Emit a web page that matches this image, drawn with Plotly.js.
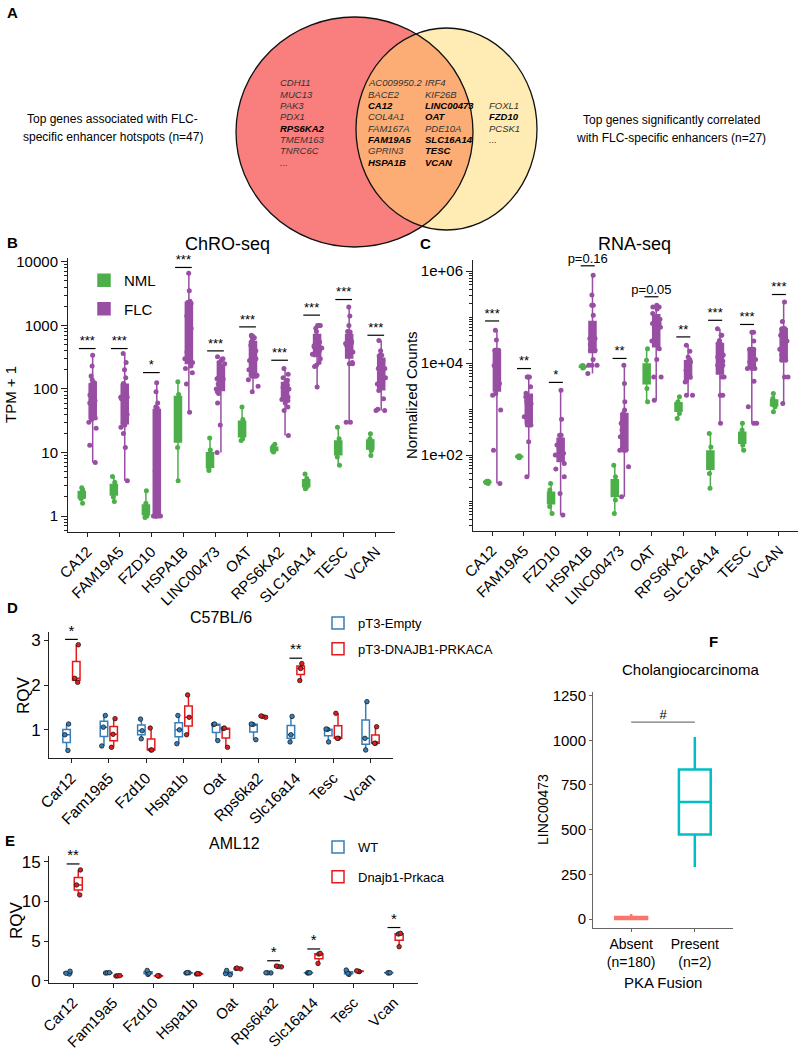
<!DOCTYPE html>
<html><head><meta charset="utf-8">
<script src="https://cdn.plot.ly/plotly-3.0.1.min.js"></script>
<style>body{margin:0;background:#fff}#chart{width:800px;height:1050px}</style>
</head><body><div id="chart"></div>
<script>
// ---------------- DATA ----------------
const humanGenes = ['CA12','FAM19A5','FZD10','HSPA1B','LINC00473','OAT','RPS6KA2','SLC16A14','TESC','VCAN'];

// Panel B: ChRO-seq, TPM + 1
const chroNML = [
  [1.6, 1.9, 2.0, 2.2, 2.3, 2.6, 2.8],
  [1.7, 2.0, 2.3, 2.6, 2.9, 3.4, 4.2],
  [0.95, 1.0, 1.1, 1.2, 1.4, 1.6, 2.5],
  [3.6, 12, 18, 46, 70, 82, 130],
  [5.2, 5.6, 6.2, 7.5, 9, 11, 17],
  [15.5, 16.5, 19, 25, 29, 33, 52],
  [10.2, 10.6, 11, 11.3, 11.8, 12.4, 13.5],
  [2.7, 2.8, 3.0, 3.3, 3.6, 3.9, 4.6],
  [6.3, 8.5, 10, 12.2, 14, 16.5, 25],
  [9, 10.8, 12, 13.8, 15, 16.5, 19.8]
];
const chroFLC = [
  [7, 13, 24, 30, 33, 35, 45, 55, 60, 60, 62, 62, 65, 80, 118, 125, 140, 160, 230, 340],
  [3.6, 12, 20, 25, 27, 29, 40, 55, 70, 74, 74, 74, 80, 95, 118, 122, 150, 200, 260, 360],
  [1, 1, 1, 1, 1, 1, 1, 5, 12, 20, 25, 30, 38, 45, 50, 52, 60, 90, 125],
  [43, 120, 180, 210, 230, 260, 300, 380, 430, 450, 600, 900, 1400, 2200, 2300, 2300, 2300, 2400, 3500, 6600],
  [10, 27, 60, 85, 90, 100, 120, 140, 145, 145, 145, 145, 150, 230, 250, 260, 280, 300, 320],
  [90, 110, 140, 158, 158, 160, 165, 200, 250, 280, 300, 340, 340, 400, 485, 560, 600, 640, 675, 675, 700],
  [18.6, 46, 52, 60, 66, 68, 72, 75, 75, 95, 100, 105, 115, 130, 137, 150, 170, 210],
  [107, 225, 235, 260, 300, 350, 400, 440, 460, 460, 460, 480, 550, 650, 800, 900, 1000, 1000, 1000],
  [30, 30, 250, 250, 260, 360, 380, 400, 480, 520, 520, 520, 560, 650, 790, 800, 1000, 1400, 1950],
  [46, 46, 48, 70, 95, 100, 120, 150, 190, 210, 210, 210, 230, 280, 330, 340, 340, 400, 580]
];
const chroSig = ['***','***','*','***','***','***','***','***','***','***'];
const chroSigY = [432, 432, 181, 8150, 397, 947, 283, 1450, 2550, 700];

// Panel C: RNA-seq, normalized counts
const rnaNML = [
  [24, 25, 26, 26, 27, 27],
  [88, 90, 92, 93, 95, 96],
  [5.4, 7.6, 10, 11.5, 14, 17.5, 24],
  [7800, 8100, 8300, 8400, 8600, 8800],
  [5.4, 10.6, 15, 19, 25, 34, 60],
  [1440, 2800, 4500, 5900, 8000, 11500, 20500],
  [625, 800, 1000, 1120, 1300, 1440, 1850],
  [19, 40, 60, 78, 100, 150, 295],
  [128, 165, 200, 230, 280, 350, 490],
  [870, 1120, 1250, 1320, 1450, 1700, 2180]
];
const rnaFLC = [
  [24, 128, 950, 2000, 2180, 3600, 5000, 7000, 7600, 8900, 10000, 13500, 13500, 19000, 19000, 19000, 31600, 51500],
  [34, 195, 450, 450, 450, 680, 900, 1320, 1320, 1320, 1500, 1850, 1850, 2200, 3060, 5000, 5000, 5000],
  [5, 14.7, 34, 50, 66, 80, 100, 100, 100, 110, 130, 165, 165, 200, 271, 271, 271, 600, 2570],
  [5900, 9000, 9000, 9000, 12000, 19000, 19000, 25000, 34000, 34000, 34000, 50000, 72000, 72000, 72000, 110000, 180000, 180000, 300000, 810000],
  [12.5, 56, 128, 128, 128, 200, 250, 350, 490, 490, 490, 600, 800, 950, 1440, 3600, 9000],
  [1560, 5000, 5000, 12000, 20500, 30000, 45000, 60000, 72000, 72000, 72000, 72000, 90000, 120000, 150000, 165000, 165000, 180000],
  [2000, 2000, 3900, 4200, 5000, 5000, 7000, 9000, 10600, 10600, 10600, 12000, 13500, 18000, 24400],
  [490, 2000, 2000, 5000, 5000, 9000, 9000, 9000, 11000, 13500, 15000, 20000, 26500, 26500, 31000, 40000, 40000, 56000],
  [490, 490, 1120, 4000, 7600, 7600, 7600, 8500, 9000, 10500, 12000, 15000, 20000, 20000, 20000, 30000, 47000, 47000],
  [1320, 5000, 5000, 11500, 11500, 15000, 20000, 30000, 40000, 40000, 40000, 51000, 56000, 56000, 56000, 56000, 80000, 213000]
];
const rnaSig = ['***','**','*','p=0.16','**','p=0.05','**','***','***','***'];
const rnaSigY = [82200, 7600, 3800, 1300000, 12600, 276000, 37000, 85000, 69000, 309000];

// Panels D & E: mouse RQV
const mouseGenes = ['Car12','Fam19a5','Fzd10','Hspa1b','Oat','Rps6ka2','Slc16a14','Tesc','Vcan'];
const c57Empty = [
  [0.54, 0.89, 1.13], [0.64, 1.06, 1.32], [0.80, 0.98, 1.24], [0.69, 1.00, 1.32], [0.76, 1.12, 1.13],
  [0.78, 1.12, 1.13], [0.73, 0.89, 1.30], [0.73, 1.01, 1.02], [0.55, 0.81, 1.63]
];
const c57Fusion = [
  [2.06, 2.15, 2.90], [0.61, 0.90, 1.25], [0.55, 0.55, 1.04], [0.89, 1.28, 1.78], [0.61, 1.03, 1.04],
  [1.28, 1.30, 1.31], [2.10, 2.37, 2.48], [0.81, 0.81, 1.37], [0.70, 0.70, 1.07]
];
const c57Sig = ['*','','','','','','**','',''];
const c57SigY = [3.02, null, null, null, null, null, 2.6, null, null];

const amlWT = [
  [0.85, 0.95, 1.2], [0.98, 1.0, 1.02], [0.8, 0.95, 1.3], [0.98, 1.0, 1.02], [0.75, 0.9, 1.3],
  [0.99, 1.0, 1.01], [0.99, 1.0, 1.01], [0.8, 0.95, 1.35], [0.99, 1.0, 1.01]
];
const amlFusion = [
  [10.8, 12.06, 13.95], [0.6, 0.62, 0.65], [0.6, 0.62, 0.64], [0.85, 0.87, 0.9], [1.5, 1.55, 1.6],
  [1.75, 1.8, 1.85], [2.18, 3.36, 3.45], [1.15, 1.2, 1.25], [4.29, 5.88, 5.97]
];
const amlSig = ['**','','','','','*','*','','*'];
const amlSigY = [14.7, null, null, null, null, 2.52, 4.0, null, 6.7];

// Panel F: Cholangiocarcinoma LINC00473
const fusionGroups = ['Absent<br>(n=180)', 'Present<br>(n=2)'];
const fusionAbsent = [0, 0, 0, 0, 1, 1, 2, 2, 3, 4, 5, 6, 8, 10, 12, 15, 18, 22, 28];
const fusionPresent = [291, 1018];
const fusionSig = '#';
const fusionSigY = 1102;

// Panel A: Venn gene lists
const vennLeftOnly = ['CDH11','MUC13','PAK3','PDX1','RPS6KA2','TMEM163','TNRC6C','...'];
const vennShared1 = ['AC009950.2','BACE2','CA12','COL4A1','FAM167A','FAM19A5','GPRIN3','HSPA1B'];
const vennShared2 = ['IRF4','KIF26B','LINC00473','OAT','PDE10A','SLC16A14','TESC','VCAN'];
const vennRightOnly = ['FOXL1','FZD10','PCSK1','...'];
const vennBold = ['RPS6KA2','CA12','FAM19A5','HSPA1B','LINC00473','OAT','SLC16A14','TESC','VCAN','FZD10'];

// ---------------- STYLE / HELPERS ----------------
const FONT = 'Liberation Sans, Arial, sans-serif';
const W = 800, H = 1050;
const X = p => p / W;
const Y = p => 1 - p / H;
const GREEN = '#4DAF4A', PURPLE = '#984EA3', BLUE = '#377EB8', RED = '#E41A1C';
const SALMON = '#F8766D', TEAL = '#00BFC4';

function q7(s, p) { const h = (s.length - 1) * p, lo = Math.floor(h), hi = Math.ceil(h); return s[lo] + (h - lo) * (s[hi] - s[lo]); }
function stats(arr, log) {
  const v = arr.map(a => log ? Math.log10(a) : a).sort((a, b) => a - b);
  const f = log ? (z => Math.pow(10, z)) : (z => z);
  return {min: f(v[0]), q1: f(q7(v, .25)), med: f(q7(v, .5)), q3: f(q7(v, .75)), max: f(v[v.length - 1])};
}
function statBox(groups, offset, log, color, fill, lw, width, xa, ya, name, legend, showlegend) {
  const s = groups.map(g => stats(g, log));
  return {type: 'box', x: groups.map((g, i) => i + offset),
    q1: s.map(d => d.q1), median: s.map(d => d.med), q3: s.map(d => d.q3),
    lowerfence: s.map(d => d.min), upperfence: s.map(d => d.max),
    width: width, fillcolor: fill, line: {color: color, width: lw}, whiskerwidth: 0,
    xaxis: xa, yaxis: ya, name: name, legend: legend, showlegend: showlegend, hoverinfo: 'skip'};
}
function pointsTrace(groups, offset, color, size, width, jitter, xa, ya) {
  const x = [], y = [];
  groups.forEach((g, i) => g.forEach(v => { x.push(i + offset); y.push(v); }));
  return {type: 'box', x: x, y: y, width: width, boxpoints: 'all', jitter: jitter, pointpos: 0,
    fillcolor: 'rgba(0,0,0,0)', line: {width: 0, color: 'rgba(0,0,0,0)'}, whiskerwidth: 0,
    marker: {color: color, size: size}, xaxis: xa, yaxis: ya, showlegend: false, hoverinfo: 'skip'};
}
function mouseTrace(groups, offset, color, name, xa, ya, legend, grp) {
  const x = [], y = [];
  groups.forEach((g, i) => g.forEach(v => { x.push(i + offset); y.push(v); }));
  return {type: 'box', x: x, y: y, name: name, width: 0.2, quartilemethod: 'inclusive',
    boxpoints: 'all', jitter: 0.7, pointpos: 0, fillcolor: 'white', line: {color: color, width: 1.5},
    whiskerwidth: 0, marker: {color: color, size: 4.5, line: {color: '#1a1a1a', width: 0.8}},
    xaxis: xa, yaxis: ya, legend: legend, legendgroup: grp, hoverinfo: 'skip'};
}
function sigText(labels, ys, xa, ya, size) {
  const x = [], y = [], t = [];
  labels.forEach((l, i) => { if (l && ys[i] != null) { x.push(i); y.push(ys[i]); t.push(l); } });
  return {type: 'scatter', mode: 'text', x: x, y: y, text: t, textposition: 'top center',
    textfont: {size: size, color: 'black', family: FONT}, cliponaxis: false,
    xaxis: xa, yaxis: ya, showlegend: false, hoverinfo: 'skip'};
}
function sigLines(labels, ys, xref, yref, half, color) {
  const out = [];
  labels.forEach((l, i) => { if (l && ys[i] != null) out.push({type: 'line', xref: xref, yref: yref,
    x0: i - half, x1: i + half, y0: ys[i], y1: ys[i], line: {color: color || 'black', width: 1.2}}); });
  return out;
}
function minorLog(lo, hi, skip) {
  const v = [];
  for (let e = lo; e <= hi; e++) for (let m = 1; m <= 9; m++) {
    const val = m * Math.pow(10, e);
    if (!(m === 1 && skip.includes(e))) v.push(val);
  }
  return v;
}

// ---------------- TRACES ----------------
const dodgeH = 0.17;
const traces = [
  statBox(chroNML, -dodgeH, true, GREEN, GREEN, 1.5, 0.22, 'x', 'y', 'NML', 'legend', true),
  statBox(chroFLC, dodgeH, true, PURPLE, PURPLE, 1.5, 0.22, 'x', 'y', 'FLC', 'legend', true),
  pointsTrace(chroNML, -dodgeH, GREEN, 5, 0.25, 0.4, 'x', 'y'),
  pointsTrace(chroFLC, dodgeH, PURPLE, 5, 0.6, 0.6, 'x', 'y'),
  sigText(chroSig, chroSigY, 'x', 'y', 13),

  statBox(rnaNML, -0.15, true, GREEN, GREEN, 1.5, 0.22, 'x2', 'y2', 'NML', 'legend', false),
  statBox(rnaFLC, 0.15, true, PURPLE, PURPLE, 1.5, 0.22, 'x2', 'y2', 'FLC', 'legend', false),
  pointsTrace(rnaNML, -0.15, GREEN, 5, 0.25, 0.4, 'x2', 'y2'),
  pointsTrace(rnaFLC, 0.15, PURPLE, 5, 0.6, 0.6, 'x2', 'y2'),
  sigText(rnaSig, rnaSigY, 'x2', 'y2', 13),

  mouseTrace(c57Empty, -0.13, BLUE, 'pT3-Empty', 'x3', 'y3', 'legend2', 'd1'),
  mouseTrace(c57Fusion, 0.13, RED, 'pT3-DNAJB1-PRKACA', 'x3', 'y3', 'legend2', 'd2'),
  sigText(c57Sig, c57SigY, 'x3', 'y3', 15),

  mouseTrace(amlWT, -0.13, BLUE, 'WT', 'x4', 'y4', 'legend3', 'e1'),
  mouseTrace(amlFusion, 0.13, RED, 'Dnajb1-Prkaca', 'x4', 'y4', 'legend3', 'e2'),
  sigText(amlSig, amlSigY, 'x4', 'y4', 15),

  statBox([fusionAbsent], 0, false, SALMON, 'white', 2.5, 0.5, 'x5', 'y5', 'Absent', 'legend', false),
  statBox([fusionPresent], 1, false, TEAL, 'white', 2.5, 0.5, 'x5', 'y5', 'Present', 'legend', false),
  {type: 'scatter', mode: 'text', x: [0.5], y: [fusionSigY], text: [fusionSig], textposition: 'top center',
   textfont: {size: 13, color: 'black', family: FONT}, cliponaxis: false, xaxis: 'x5', yaxis: 'y5',
   showlegend: false, hoverinfo: 'skip'}
];

// ---------------- AXES ----------------
const baseAx = {showline: true, linecolor: '#222', linewidth: 1, ticks: 'outside', ticklen: 4,
  tickcolor: '#222', showgrid: false, zeroline: false, tickfont: {family: FONT, size: 15, color: 'black'}};
function catAx(domain, anchor, labels, size, angle) {
  return Object.assign({}, baseAx, {domain: domain, anchor: anchor, range: [-0.6, labels.length - 0.4],
    tickmode: 'array', tickvals: labels.map((l, i) => i), ticktext: labels, tickangle: angle,
    tickfont: {family: FONT, size: size, color: 'black'}});
}

const layout = {
  width: W, height: H, autosize: false, margin: {l: 0, r: 0, t: 0, b: 0},
  paper_bgcolor: 'white', plot_bgcolor: 'white', font: {family: FONT, color: 'black'},
  boxmode: 'overlay', boxgap: 0, boxgroupgap: 0,
  xaxis: catAx([X(68), X(395)], 'y', humanGenes, 15, -45),
  yaxis: Object.assign({}, baseAx, {domain: [Y(532), Y(258)], anchor: 'x', type: 'log', range: [-0.25, 4.06],
    tickmode: 'array', tickvals: [1, 10, 100, 1000, 10000], ticktext: ['1', '10', '100', '1000', '10000'], ticklen: 6,
    minor: {tickmode: 'array', tickvals: minorLog(-1, 4, [0, 1, 2, 3, 4]), ticks: 'outside', ticklen: 3, tickcolor: '#222'}}),
  xaxis2: catAx([X(473), X(798)], 'y2', humanGenes, 15, -45),
  yaxis2: Object.assign({}, baseAx, {domain: [Y(531), Y(260)], anchor: 'x2', type: 'log', range: [0.35, 6.24],
    tickmode: 'array', tickvals: [100, 10000, 1000000], ticktext: ['1e+02', '1e+04', '1e+06'], ticklen: 6,
    minor: {tickmode: 'array', tickvals: minorLog(0, 6, [2, 4, 6]), ticks: 'outside', ticklen: 3, tickcolor: '#222'}}),
  xaxis3: catAx([X(49), X(393)], 'y3', mouseGenes, 15.5, -45),
  yaxis3: Object.assign({}, baseAx, {domain: [Y(758), Y(632)], anchor: 'x3', range: [0.371, 3.185],
    tickmode: 'array', tickvals: [1, 2, 3], tickfont: {family: FONT, size: 17, color: 'black'}}),
  xaxis4: catAx([X(49), X(418)], 'y4', mouseGenes, 15, -45),
  yaxis4: Object.assign({}, baseAx, {domain: [Y(983), Y(856)], anchor: 'x4', range: [-0.28, 15.7],
    tickmode: 'array', tickvals: [0, 5, 10, 15], tickfont: {family: FONT, size: 17, color: 'black'}}),
  xaxis5: Object.assign({}, catAx([X(593), X(733)], 'y5', fusionGroups, 14, 0), {linecolor: '#666', tickcolor: '#666', ticklen: 3, range: [-0.6, 1.6]}),
  yaxis5: Object.assign({}, baseAx, {domain: [Y(928), Y(692)], anchor: 'x5', range: [-50, 1270],
    tickmode: 'array', tickvals: [0, 250, 500, 750, 1000, 1250], linecolor: '#666', tickcolor: '#666', ticklen: 3,
    tickfont: {family: FONT, size: 15, color: 'black'}}),
  legend: {x: X(84), y: Y(264), xanchor: 'left', yanchor: 'top', bgcolor: 'rgba(0,0,0,0)',
    font: {family: FONT, size: 15}, traceorder: 'grouped', tracegroupgap: 6, itemwidth: 30},
  legend2: {x: X(318), y: Y(608), xanchor: 'left', yanchor: 'top', bgcolor: 'rgba(0,0,0,0)',
    font: {family: FONT, size: 13}, traceorder: 'grouped', tracegroupgap: 6, itemwidth: 30},
  legend3: {x: X(318), y: Y(832), xanchor: 'left', yanchor: 'top', bgcolor: 'rgba(0,0,0,0)',
    font: {family: FONT, size: 13}, traceorder: 'grouped', tracegroupgap: 10, itemwidth: 30},
  shapes: [],
  annotations: []
};
traces[0].legendgroup = 'b1';
traces[1].legendgroup = 'b2';

// Venn diagram shapes
layout.shapes.push(
  {type: 'circle', xref: 'paper', yref: 'paper', x0: X(236), x1: X(473), y0: Y(247), y1: Y(17),
   fillcolor: 'rgb(249,126,126)', line: {width: 0}},
  {type: 'circle', xref: 'paper', yref: 'paper', x0: X(356), x1: X(537), y0: Y(230), y1: Y(28),
   fillcolor: 'rgba(255,218,107,0.51)', line: {width: 0}},
  {type: 'circle', xref: 'paper', yref: 'paper', x0: X(236), x1: X(473), y0: Y(247), y1: Y(17),
   line: {color: '#111', width: 1.3}},
  {type: 'circle', xref: 'paper', yref: 'paper', x0: X(356), x1: X(537), y0: Y(230), y1: Y(28),
   line: {color: '#111', width: 1.3}}
);
// significance bars
layout.shapes.push(...sigLines(chroSig, chroSigY, 'x', 'y', 0.26));
layout.shapes.push(...sigLines(rnaSig, rnaSigY, 'x2', 'y2', 0.22));
layout.shapes.push(...sigLines(c57Sig, c57SigY, 'x3', 'y3', 0.17));
layout.shapes.push(...sigLines(amlSig, amlSigY, 'x4', 'y4', 0.16));
layout.shapes.push({type: 'line', xref: 'x5', yref: 'y5', x0: 0, x1: 1, y0: fusionSigY, y1: fusionSigY,
  line: {color: '#777', width: 1.2}});

// annotations helpers
function ann(text, xpx, ypx, size, opts) {
  return Object.assign({xref: 'paper', yref: 'paper', x: X(xpx), y: Y(ypx), text: text, showarrow: false,
    xanchor: 'center', yanchor: 'middle', font: {family: FONT, size: size, color: 'black'}}, opts || {});
}
const A = layout.annotations;
// panel letters
[['A', 12, 12], ['B', 12, 242], ['C', 425, 244], ['D', 12, 607], ['E', 10, 840], ['F', 713, 641]]
  .forEach(p => A.push(ann('<b>' + p[0] + '</b>', p[1], p[2], 15)));
// Venn side texts
A.push(ann('Top genes associated with FLC-', 113, 119, 12));
A.push(ann('specific enhancer hotspots (n=47)', 113, 137, 12));
A.push(ann('Top genes significantly correlated', 671, 120, 12));
A.push(ann('with FLC-specific enhancers (n=27)', 671, 138, 12));
// Venn gene names
const rowY0 = 82.7, rowDY = 11.33;
function geneAnn(name, xpx, row) {
  const bold = vennBold.includes(name);
  return ann(bold ? '<b><i>' + name + '</i></b>' : '<i>' + name + '</i>', xpx, rowY0 + row * rowDY, 9.5,
    {xanchor: 'left', font: {family: FONT, size: 9.5, color: bold ? '#000' : '#333'}});
}
vennLeftOnly.forEach((g, i) => A.push(geneAnn(g, 278, i)));
vennShared1.forEach((g, i) => A.push(geneAnn(g, 366, i)));
vennShared2.forEach((g, i) => A.push(geneAnn(g, 423, i)));
vennRightOnly.forEach((g, i) => A.push(geneAnn(g, 487, i + 2)));
// titles
A.push(ann('ChRO-seq', 228, 244, 18));
A.push(ann('RNA-seq', 634, 244, 18));
A.push(ann('C57BL/6', 221, 617, 16));
A.push(ann('AML12', 234, 843, 16));
A.push(ann('Cholangiocarcinoma', 690, 669, 15));
// axis titles
A.push(ann('TPM + 1', 10, 395, 15, {textangle: -90}));
A.push(ann('Normalized Counts', 411, 395, 15, {textangle: -90}));
A.push(ann('RQV', 23, 695, 17, {textangle: -90}));
A.push(ann('RQV', 16, 920, 17, {textangle: -90}));
A.push(ann('LINC00473', 543, 810, 14, {textangle: -90}));
A.push(ann('PKA Fusion', 663, 982, 15));

Plotly.newPlot('chart', traces, layout, {staticPlot: true, displayModeBar: false});
</script></body></html>
